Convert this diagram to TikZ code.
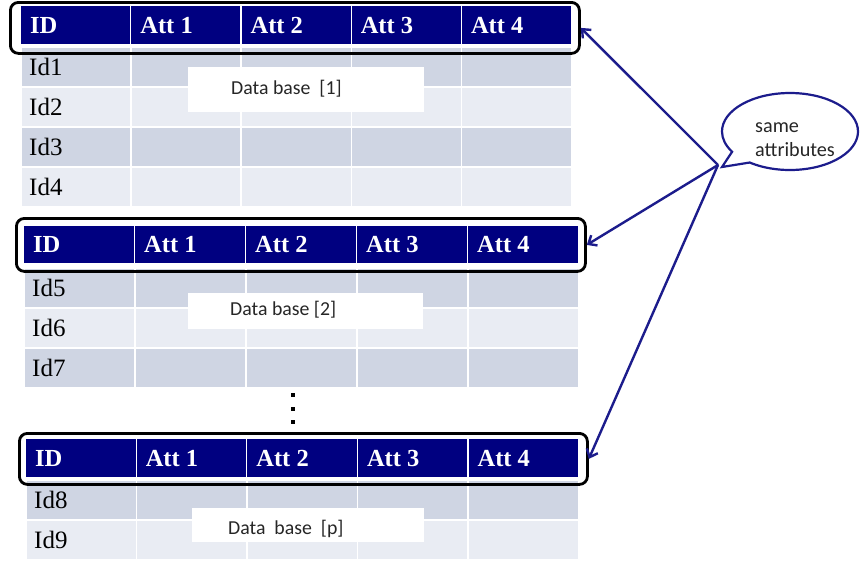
\documentclass[tikz,border=0pt]{standalone}
\usepackage{fontspec}
\setmainfont{Liberation Serif}
\newfontfamily\calibri{Carlito}
\usetikzlibrary{arrows.meta,shapes.callouts,shapes.geometric}
\definecolor{hdr}{RGB}{0,0,128}
\definecolor{rowA}{RGB}{207,213,227}
\definecolor{rowB}{RGB}{233,236,243}
\definecolor{arrc}{RGB}{28,28,140}
\tikzset{
 hcell/.style={draw=white, line width=1.2pt, fill=hdr, inner sep=0pt, anchor=north west},
 rcell/.style={draw=white, line width=1.5pt, inner sep=0pt, anchor=north west},
 htext/.style={font=\fontsize{24.5}{28}\selectfont\bfseries, text=white, inner sep=0pt, anchor=west},
 idtext/.style={font=\fontsize{25}{29}\selectfont, text=black, inner sep=0pt, anchor=west},
 outl/.style={draw=black, line width=2.8pt, rounded corners=8pt, inner sep=0pt, anchor=north west},
 dbbox/.style={fill=white, inner sep=0pt, anchor=north west},
 dbtext/.style={font=\calibri\fontsize{19.8}{23}\selectfont, text=black!85, inner sep=0pt, anchor=west},
 arr/.style={draw=arrc, line width=2.4pt, -{Straight Barb[length=7pt,width=12pt]}},
 dotsq/.style={fill=black, minimum size=4pt, inner sep=0pt},
 ctext/.style={font=\calibri\fontsize{20.2}{24}\selectfont, text=black!85, inner sep=0pt, anchor=base west},
 callbox/.style={ellipse callout, draw=arrc, line width=2.2pt, fill=white, inner sep=0pt},
}
\newcommand{\dbtable}[7]{%
 \foreach \cc/\hd in {0/ID,1/Att 1,2/Att 2,3/Att 3,4/Att 4}{%
   \node[hcell, minimum width=#3pt, minimum height=#5pt] (#1h\cc) at ({#2+\cc*#3},#4) {};
   \node[htext] (#1t\cc) at ([xshift=10pt]#1h\cc.west) {\hd};
 }
 \foreach \lab [count=\rr from 0] in {#7}{%
   \pgfmathtruncatemacro\odd{mod(\rr,2)}%
   \ifnum\odd=0 \def\rf{rowA}\else\def\rf{rowB}\fi
   \foreach \cc in {0,...,4}{%
     \node[rcell, fill=\rf, minimum width=#3pt, minimum height=40pt] (#1r\rr c\cc) at ({#2+\cc*#3},{#6+\rr*40}) {};
   }
   \node[idtext] (#1id\rr) at ([xshift=9pt]#1r\rr c0.west) {\lab};
 }
}
\begin{document}
\begin{tikzpicture}[x=1pt,y=-1pt]
\fill[white] (0,0) rectangle (860,560);
\useasboundingbox (0,0) rectangle (860,560);
% tables
\dbtable{a}{20}{110.2}{5}{39}{46}{Id1,Id2,Id3,Id4}
\dbtable{b}{23}{111}{225}{38}{267}{Id5,Id6,Id7}
\dbtable{c}{25}{110.6}{438}{39}{479}{Id8,Id9}
% data base labels
\node[dbbox, minimum width=236pt, minimum height=45pt] (adb) at (188,67) {};
\node[dbtext] (adbt) at (231,89) {Data base\ \ [1]};
\node[dbbox, minimum width=235pt, minimum height=36pt] (bdb) at (188,293) {};
\node[dbtext] (bdbt) at (230,310) {Data base [2]};
\node[dbbox, minimum width=232pt, minimum height=34pt] (cdb) at (192,508) {};
\node[dbtext] (cdbt) at (228,529) {Data\ \ base\ \ [p]};
% header outlines
\node[outl, minimum width=569pt, minimum height=51pt] (ao) at (9,1) {};
\node[outl, minimum width=569pt, minimum height=53pt] (bo) at (15,217) {};
\node[outl, minimum width=568pt, minimum height=51pt] (co) at (18,432) {};
% vertical dots
\node[dotsq] (d1) at (293,395) {};
\node[dotsq] (d2) at (293,409) {};
\node[dotsq] (d3) at (293,422) {};
% callout
\node[callbox, minimum width=136pt, minimum height=77pt, callout absolute pointer={(722,167)}, callout pointer arc=22] (call) at (790,131.5) {};
\node[ctext] (same) at (755,132) {same};
\node[ctext] (attr) at (755,156) {attributes};
\coordinate (src) at (718,165);
\draw[arr] (src) -- (ao.east);
\draw[arr] (src) -- (bo.east);
\draw[arr] (src) -- (co.east);
\end{tikzpicture}
\end{document}
